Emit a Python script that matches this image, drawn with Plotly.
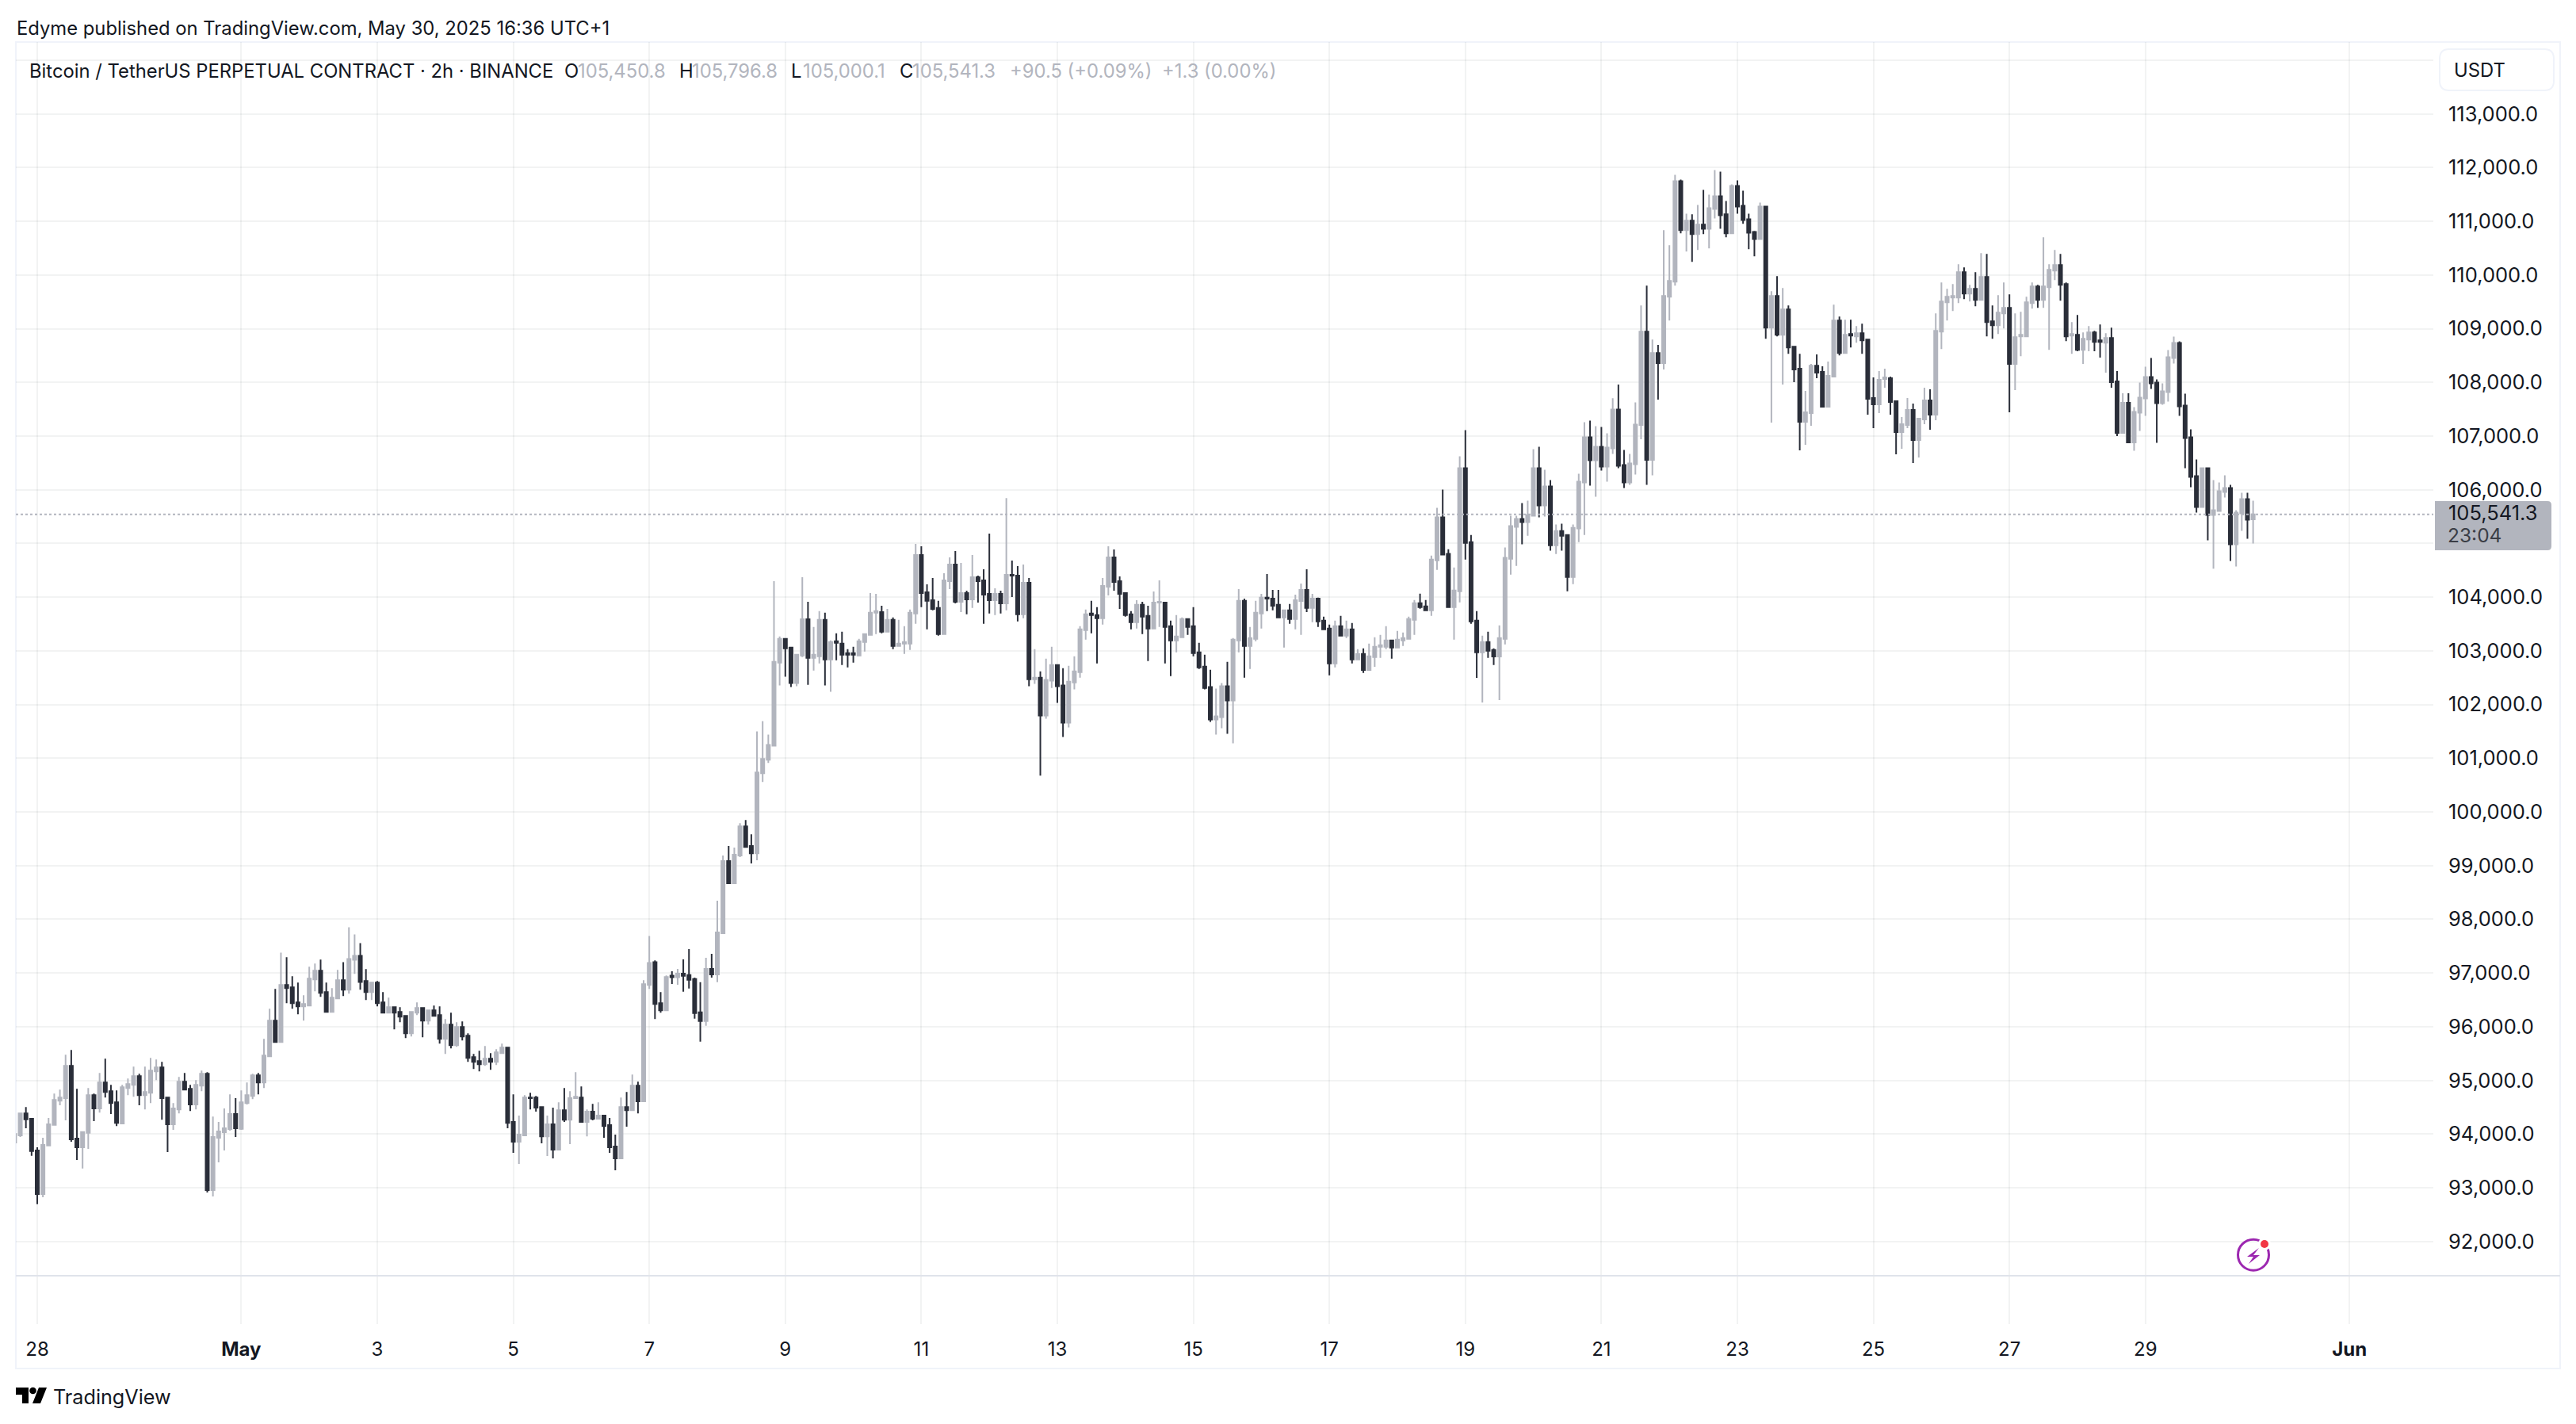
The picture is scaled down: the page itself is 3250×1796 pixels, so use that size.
import pandas as pd
import plotly.graph_objects as go

# values, one bar per entry (10 per row)
opens = [
    93841,93973,94386,94283,93693,92882,93787,94170,94622,94667,
    95271,93914,93752,94023,94725,94475,94961,94799,94593,94195,
    94858,94917,95079,94725,94770,95168,95242,94681,94180,94460,
    94976,94843,94549,94902,95124,92956,93929,94032,94091,94372,
    94096,94578,94711,95094,94961,95448,96112,95714,96776,96731,
    96451,96377,96392,96879,97041,96643,96274,96525,96864,96687,
    97247,97321,96849,96643,96820,96451,96259,96362,96274,96200,
    95876,96259,96348,96112,96303,96215,95773,96038,95655,95994,
    95832,95433,95360,95301,95404,95345,95507,95610,94224,93855,
    93973,94681,94681,94504,93958,94180,93708,94445,94268,94667,
    94681,94224,94416,94283,94342,94165,93767,93546,94504,94445,
    94902,94608,96775,97203,96436,96303,96950,96920,96989,96960,
    96886,96266,96104,97077,96974,97741,99083,98670,99186,99732,
    99363,99230,100718,100969,101234,102781,103223,103060,102398,102913,
    103590,102869,102899,103576,102840,103178,103134,102957,102957,102913,
    103164,103296,103709,103723,103355,103576,103090,103134,103134,103694,
    104784,104092,103944,103797,103311,104298,104607,103915,104077,103959,
    104372,104313,104062,103944,104062,103885,104416,104401,103679,104268,
    102471,102501,101794,102442,102737,102354,101661,102412,102604,103385,
    103694,103665,103606,104195,104740,104298,104077,103679,103532,103856,
    103650,103414,103900,103900,103458,103193,103252,103591,103458,102972,
    102707,102324,101720,101764,102339,102074,103193,103930,103090,103222,
    103694,103989,103974,103856,103620,103753,103591,103929,104136,103797,
    103974,103561,103414,102766,103458,103282,103399,102840,102943,102645,
    102882,103074,103074,103192,103059,103192,103222,103577,103887,103828,
    103754,104686,105485,104805,103813,104109,106402,105026,103562,102970,
    103163,103015,102896,103222,104716,105307,105455,105396,105514,106402,
    105707,106062,104967,105233,105159,104375,105278,106136,106979,106550,
    106801,106431,106771,107496,106461,106136,106476,107206,108946,106558,
    108548,108357,109595,109875,111748,110834,111011,110760,110937,110863,
    111232,111468,111129,110775,111659,111291,111040,110804,110671,111276,
    109020,109610,108887,109359,108666,108253,107265,107428,108312,108194,
    107546,108106,109153,108548,108902,108858,108917,108799,107708,107590,
    108062,108076,107649,107074,107206,107487,106926,107310,107664,107398,
    108946,109492,109580,109580,110052,109654,109743,109536,109964,109138,
    109064,109285,109389,108342,108858,108858,109477,109787,109536,109772,
    110082,110185,109831,108873,108887,108607,108799,108932,108784,108740,
    108828,108017,107059,107619,106882,107435,107701,108100,107996,107613,
    107819,108454,108734,107568,106978,106255,105679,106402,105531,105605,
    105959,106033,104985,105561,105827,105450.8,
]
highs = [
    94000,94386,94504,94283,93752,93929,94298,94755,94829,95478,
    95566,94843,94052,94858,94755,95138,95404,94917,94814,94917,
    95035,95256,95124,95256,95419,95389,95345,94681,94578,95065,
    95138,94917,95006,95183,95153,94327,94224,94475,94740,94667,
    94814,94961,95124,95138,95773,96333,96702,97380,97292,96938,
    96820,96584,97115,97174,97248,96820,96717,97056,97203,97852,
    97719,97557,97071,96834,96849,96643,96540,96362,96362,96200,
    96274,96451,96362,96303,96392,96377,96141,96259,96082,96097,
    95876,95492,95551,95640,95507,95581,95684,95625,94740,94342,
    94725,94770,94711,94504,94342,94490,94593,94858,94799,95153,
    94888,94460,94563,94593,94342,94298,93988,94681,94785,95109,
    94976,96864,97690,97233,96643,96953,97033,97077,97254,97446,
    96915,96827,97284,97358,98346,99186,99363,99334,99791,99850,
    99584,101499,101691,101440,104298,103267,103223,103060,102928,104372,
    103915,103444,103738,103709,103193,103326,103355,103031,103075,103223,
    103326,104077,104062,103841,103782,103620,103576,103458,103768,104991,
    104946,104239,104357,103930,104445,104740,104858,104637,104121,104784,
    104401,104519,105182,104165,104121,105845,104681,104578,104607,104357,
    103031,102619,102854,103075,102737,102678,102722,102899,103458,103768,
    103930,103812,104357,104946,104887,104386,104077,103738,103944,103915,
    103841,104106,104313,103915,103562,103665,103620,103606,103812,103149,
    102928,102648,102295,102398,102795,103237,104151,103974,103444,103930,
    104062,104431,104136,104136,103768,103871,104047,104254,104519,104062,
    103989,103635,103488,103561,103650,103561,103517,103031,103046,103134,
    103251,103296,103458,103207,103370,103340,103636,103947,104065,103947,
    104775,105662,106002,104893,104553,106624,107112,105159,103739,103281,
    103355,103044,103473,104923,105514,105514,105751,105795,106757,106801,
    106372,106180,105352,105366,105159,105352,106298,107259,107289,107186,
    107171,107052,107703,107958,106742,106668,107629,109433,109802,108799,
    108696,110834,110553,111866,111777,111143,111129,111306,111586,111497,
    111954,111924,111379,111689,111763,111571,111143,110819,111350,111291,
    109698,109978,109757,109433,108681,108533,107840,108342,108519,108298,
    108386,109448,109226,109168,109168,109050,109094,108799,108091,108209,
    108253,108106,107649,107354,107708,107605,107339,107899,107870,109285,
    109861,109743,109831,110200,110141,109816,110052,110406,110391,109433,
    109625,109861,109639,109285,109315,109595,109861,109816,110701,110200,
    110465,110391,109861,109123,109256,108932,109050,108961,109079,108917,
    109020,108209,107796,107796,107539,107996,108291,108454,108055,107982,
    108601,108852,108764,107790,107125,106565,106417,106402,106181,106137,
    106270,106092,105620,105945,105945,105796.8,
]
lows = [
    93841,93944,94106,93595,92695,92823,93787,94170,94534,94254,
    93855,93516,93359,93723,94239,94401,94681,94372,94150,94195,
    94725,94696,94534,94460,94578,95006,94268,93664,94077,94386,
    94814,94430,94460,94799,92911,92838,93472,93693,94062,93944,
    94077,94549,94652,94740,94858,95448,95714,95714,96436,96333,
    96230,96112,96392,96657,96554,96274,96274,96525,96569,96613,
    96982,96687,96495,96495,96377,96244,96244,95948,96082,95787,
    95817,96215,95802,96038,96186,95684,95492,95596,95625,95743,
    95345,95212,95168,95271,95197,95286,95507,94106,93649,93442,
    93973,94460,94416,93826,93590,93546,93693,94224,93811,94667,
    94224,93958,94254,94283,93929,93649,93324,93546,94136,94445,
    94386,94608,96702,96141,96259,96303,96797,96782,96650,96709,
    96148,95721,96016,96915,96827,97741,98670,98670,99157,99348,
    99039,99098,100556,100910,101234,102354,102516,102324,102339,102884,
    102368,102633,102766,102354,102236,102825,102737,102692,102781,102913,
    102987,103296,103311,103326,103355,103031,103090,102943,103016,103503,
    103812,103399,103753,103282,103311,104151,103885,103723,103679,103797,
    103900,103503,103694,103664,103694,103753,104003,103547,103606,102339,
    102383,100674,101735,102309,102029,101396,101573,102280,102501,103208,
    103326,102766,103488,104033,104121,103782,103635,103399,103414,103311,
    102810,103414,103444,102766,102530,102972,103237,103296,102899,102663,
    102280,101676,101440,101558,101455,101278,102972,102501,102663,103178,
    103414,103738,103753,103620,103061,103502,103399,103296,103723,103532,
    103444,103385,102545,102692,103267,103237,102766,102840,102586,102645,
    102704,102867,103030,102852,103044,103089,103222,103296,103784,103754,
    103651,104509,104790,103799,103207,103902,104701,103503,102497,102039,
    102867,102734,102083,103118,104420,104582,104982,105144,105514,105485,
    105500,104864,104804,104864,104109,104242,105026,105159,106077,105869,
    106357,106150,106668,106402,106032,106091,106283,106941,106091,106269,
    107678,108239,109153,109802,110775,110436,110244,110465,110760,110495,
    111055,110863,110701,110775,111143,110952,110480,110347,110671,108814,
    107251,108858,107958,108533,108003,106735,106838,107192,108076,107531,
    107546,108106,108504,108548,108651,108740,108533,107398,107147,107428,
    107899,107398,106661,106764,107147,106499,106602,107221,107118,107295,
    108622,109153,109330,109477,109551,109507,109418,109536,108858,108814,
    108902,109005,107442,107855,108489,108858,109374,109389,109389,108607,
    109905,109521,108769,108533,108578,108342,108578,108578,108460,108180,
    107899,107000,107059,106882,106727,107096,107376,107878,106875,107583,
    107642,108350,107376,106402,106048,105576,105679,105059,104528,105605,
    105856,104675,104572,105236,105089,105000.1,
]
closes = [
    94000,94386,94273,93683,92882,93796,94180,94637,94681,95271,
    93900,93752,94037,94725,94475,94961,94785,94578,94209,94873,
    94932,95079,94725,94785,95183,95242,94667,94180,94475,94976,
    94829,94549,94917,95124,92956,93944,94047,94106,94372,94106,
    94593,94725,95094,94961,95463,96112,95714,96776,96717,96436,
    96377,96421,96894,97041,96628,96274,96540,96864,96687,97262,
    97321,96834,96643,96820,96436,96259,96362,96259,96186,95876,
    96274,96348,96112,96303,96200,95773,96038,95655,95994,95817,
    95419,95345,95301,95404,95345,95522,95610,94209,93855,93988,
    94681,94667,94490,93958,94180,93708,94445,94268,94667,94696,
    94224,94416,94283,94342,94150,93752,93546,94504,94445,94902,
    94608,96790,97188,96422,96303,96923,96920,96989,96945,96871,
    96252,96104,97077,96974,97756,99083,98670,99201,99732,99348,
    99230,100733,100984,101249,102795,103223,103046,102398,102928,103590,
    102869,102928,103576,102840,103164,103149,102928,102928,102928,103178,
    103311,103709,103738,103355,103576,103090,103134,103164,103709,104784,
    104077,103930,103782,103311,104313,104607,103915,104077,103959,104372,
    104298,104047,103944,104062,103885,104416,104401,103679,104268,102471,
    102501,101794,102457,102737,102339,101661,102427,102619,103399,103679,
    103665,103606,104210,104740,104283,104062,103665,103532,103856,103635,
    103414,103900,103915,103444,103193,103267,103591,103444,102957,102692,
    102309,101720,101779,102339,102074,103208,103930,103090,103237,103709,
    103989,103974,103841,103620,103753,103591,103944,104136,103797,103974,
    103547,103399,102766,103458,103282,103399,102840,102941,102645,102899,
    103074,103104,103192,103059,103207,103237,103592,103887,103813,103754,
    104701,105485,104790,103813,104124,106402,105011,103547,102970,103163,
    103000,102896,103237,104731,105322,105455,105396,105529,106402,105707,
    106062,104967,105233,105144,104375,105292,106151,106979,106550,106801,
    106431,106786,107496,106446,106136,106491,107215,108946,106558,108548,
    108357,109610,109890,111748,110834,111011,110760,110937,110863,111247,
    111468,111114,110775,111659,111276,111025,110789,110671,111276,109020,
    109610,108887,109359,108651,108239,107265,107442,108312,108180,107546,
    108121,109153,108548,108887,108873,108917,108784,107693,107590,108047,
    108091,107634,107074,107221,107487,106926,107324,107664,107398,108961,
    109507,109595,109610,110052,109654,109743,109536,109964,109123,109064,
    109300,109389,108342,108843,108887,109492,109787,109536,109787,110096,
    110185,109816,108858,108902,108607,108814,108932,108755,108755,108828,
    108003,107059,107619,106882,107450,107716,108100,107982,107613,107834,
    108469,108734,107553,106963,106240,105679,106402,105531,105620,105974,
    106033,104985,105576,105827,105443,105541.3,
]
first_bar = "2025-04-27 16:00"
last_price = 105541.3

price_ticks = [92000 + 1000 * i for i in range(23)]
# 105,000 sits under the last price tag and 114,000 under the currency box
price_labels = ["" if p in (105000, 114000) else f"{p:,.1f}" for p in price_ticks]
date_ticks = ["2025-04-28", "2025-05-01", "2025-05-03", "2025-05-05", "2025-05-07", "2025-05-09",
              "2025-05-11", "2025-05-13", "2025-05-15", "2025-05-17", "2025-05-19", "2025-05-21",
              "2025-05-23", "2025-05-25", "2025-05-27", "2025-05-29", "2025-06-01"]
date_labels = ["28", "<b>May</b>", "3", "5", "7", "9", "11", "13", "15", "17", "19", "21", "23", "25",
               "27", "29", "<b>Jun</b>"]

UP = "#b2b5be"
DOWN = "#2a2e39"
TEXT = "#131722"
GRID = "rgba(42,46,57,0.06)"
FRAME = "#f0f3fa"
FONT = "Inter"

# page body has an 8px margin, plot box in page pixels
LEFT, RIGHT, TOP, BOTTOM = 20, 3070, 53, 1670


def px(x):
    return (x - LEFT) / (RIGHT - LEFT)


def py(y):
    return (BOTTOM - y) / (BOTTOM - TOP)


def label(x, y, text, color=TEXT, size=23.8):
    return dict(xref="paper", yref="paper", x=px(x), y=py(y), text=text, showarrow=False,
                xanchor="left", yanchor="middle", borderpad=0,
                font=dict(family=FONT, size=size, color=color))


def poly(points, color):
    d = "M " + " L ".join(f"{px(a)},{py(b)}" for a, b in points) + " Z"
    return dict(type="path", xref="paper", yref="paper", path=d, fillcolor=color,
                line=dict(width=0), layer="above")


def rounded(x0, y0, x1, y1, rl, rr, fill, line):
    # rect with separate left / right corner radius
    d = (f"M {px(x0 + rl)},{py(y0)} L {px(x1 - rr)},{py(y0)} Q {px(x1)},{py(y0)} {px(x1)},{py(y0 + rr)} "
         f"L {px(x1)},{py(y1 - rr)} Q {px(x1)},{py(y1)} {px(x1 - rr)},{py(y1)} L {px(x0 + rl)},{py(y1)} "
         f"Q {px(x0)},{py(y1)} {px(x0)},{py(y1 - rl)} L {px(x0)},{py(y0 + rl)} Q {px(x0)},{py(y0)} {px(x0 + rl)},{py(y0)} Z")
    return dict(type="path", xref="paper", yref="paper", path=d, fillcolor=fill,
                line=dict(color=line, width=2) if line else dict(width=0), layer="above")


def circle(cx, cy, r, fill, line=None, width=0):
    return dict(type="circle", xref="paper", yref="paper", x0=px(cx - r), x1=px(cx + r),
                y0=py(cy + r), y1=py(cy - r), fillcolor=fill,
                line=dict(color=line, width=width) if line else dict(width=0), layer="above")


times = pd.date_range(first_bar, periods=len(closes), freq="2h")

fig = go.Figure()
fig.add_trace(go.Candlestick(
    x=times, open=opens, high=highs, low=lows, close=closes,
    increasing=dict(line=dict(color=UP, width=2), fillcolor=UP),
    decreasing=dict(line=dict(color=DOWN, width=2), fillcolor=DOWN),
    whiskerwidth=0, hoverinfo="skip", showlegend=False,
))

shapes = [
    dict(type="rect", xref="paper", yref="paper", x0=px(20), x1=px(3230), y0=py(1726), y1=py(53),
         line=dict(color=FRAME, width=2), layer="below"),
    dict(type="line", xref="paper", yref="paper", x0=px(20), x1=px(3230), y0=py(1609), y1=py(1609),
         line=dict(color="#e0e3eb", width=2), layer="above"),
    dict(type="line", xref="paper", yref="y", x0=0, x1=1, y0=last_price, y1=last_price,
         line=dict(color=UP, width=2, dash="3px,3px"), layer="above"),
    rounded(3078, 62, 3222, 114, 12, 12, "#ffffff", FRAME),
    rounded(3072, 632, 3219, 694, 0, 5, UP, None),
    # TradingView logo
    poly([(20, 1750), (36, 1750), (36, 1770), (28, 1770), (28, 1759), (20, 1759)], "#000000"),
    circle(41.5, 1754, 4.3, "#000000"),
    poly([(49, 1750), (59, 1750), (51, 1770), (41, 1770)], "#000000"),
    # alert icon
    circle(2843, 1582.7, 19.5, "rgba(0,0,0,0)", "#9c27b0", 3),
    circle(2857, 1569, 8, "#ffffff"),
    circle(2857, 1569, 5, "#f23645"),
    poly([(2850, 1574), (2835, 1585), (2843, 1585), (2837, 1594), (2851, 1583), (2843, 1583)], "#9c27b0"),
]

annotations = [
    label(20, 36, "Edyme published on TradingView.com, May 30, 2025 16:36 UTC+1"),
    label(36, 89, "Bitcoin / TetherUS PERPETUAL CONTRACT · 2h · BINANCE"),
    label(711, 89, "O"), label(728, 89, "105,450.8", UP),
    label(856, 89, "H"), label(872, 89, "105,796.8", UP),
    label(997, 89, "L"), label(1012, 89, "105,000.1", UP),
    label(1134, 89, "C"), label(1150, 89, "105,541.3", UP),
    label(1273, 89, "+90.5 (+0.09%)", UP),
    label(1465, 89, "+1.3 (0.00%)", UP),
    label(3095, 88, "USDT"),
    label(3088, 647, "105,541.3", size=25.5),
    label(3087, 675, "23:04", "#3a3d45", size=24.5),
    label(66, 1762, "TradingView", size=25.2),
]

fig.update_layout(
    width=3234, height=1780,
    margin=dict(l=LEFT - 8, r=3234 - (RIGHT - 8), t=TOP - 8, b=1780 - (BOTTOM - 8)),
    paper_bgcolor="#ffffff", plot_bgcolor="#ffffff",
    boxgap=0.44, boxgroupgap=0,
    showlegend=False,
    shapes=shapes,
    annotations=annotations,
    font=dict(family=FONT, color=TEXT),
    xaxis=dict(
        range=["2025-04-27 16:27", "2025-06-02 05:36"],
        rangeslider=dict(visible=False),
        tickmode="array", tickvals=date_ticks, ticktext=date_labels,
        showgrid=True, gridcolor=GRID, gridwidth=2,
        zeroline=False, showline=False, ticks="",
        tickfont=dict(family=FONT, size=24, color=TEXT),
        ticklabelstandoff=15,
    ),
    yaxis=dict(
        range=[90460, 114339], side="right",
        tickmode="array", tickvals=price_ticks, ticktext=price_labels,
        showgrid=True, gridcolor=GRID, gridwidth=2,
        zeroline=False, showline=False, ticks="",
        tickfont=dict(family=FONT, size=25.5, color=TEXT),
        ticklabelstandoff=18,
    ),
)

fig.write_html("out.html")
